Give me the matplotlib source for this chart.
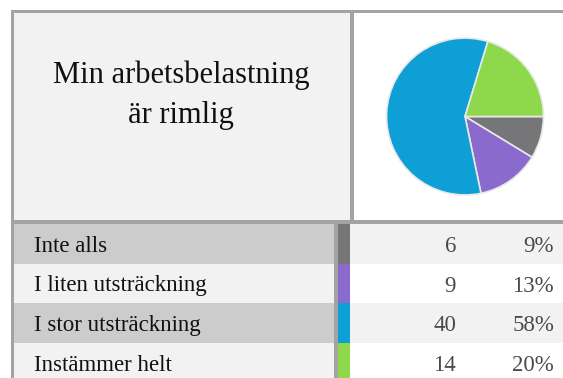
import matplotlib
matplotlib.use("Agg")
import matplotlib.pyplot as plt
from matplotlib.patches import Rectangle

title_lines = ["Min arbetsbelastning", "är rimlig"]
categories = ["Inte alls", "I liten utsträckning", "I stor utsträckning", "Instämmer helt"]
counts = [6, 9, 40, 14]
percents = ["9%", "13%", "58%", "20%"]
colors = ["#767577", "#8a6acd", "#0f9fd7", "#8dd84b"]

W, H = 563, 378
fig = plt.figure(figsize=(W / 100, H / 100), dpi=100)
ax = fig.add_axes([0, 0, 1, 1])
ax.set_xlim(0, W)
ax.set_ylim(H, 0)
ax.axis("off")

border = "#a3a3a3"
light = "#f2f2f2"
dark = "#cccccc"
serif = ["Liberation Serif", "DejaVu Serif"]

def rect(x0, y0, x1, y1, c):
    ax.add_patch(Rectangle((x0, y0), x1 - x0, y1 - y0, facecolor=c, edgecolor="none", lw=0))

# header
rect(13.5, 12, 350, 220, light)
rect(354, 12, W, 220, "white")
# rows
row_top = 224
row_h = 39.7
for i, cat in enumerate(categories):
    y0 = row_top + i * row_h
    y1 = y0 + row_h
    rect(13.5, y0, 334, y1, dark if i % 2 == 0 else light)
    rect(350, y0, W, y1, light if i % 2 == 0 else "white")
    rect(337.5, y0, 350, y1, colors[i])
    yb = y0 + 27.8
    ax.text(33.5, yb, cat, ha="left", va="baseline", fontsize=16.5, family=serif, color="#111111")
    ax.text(456, yb, str(counts[i]), ha="right", va="baseline", fontsize=16.5, family=serif, color="#4a4a4a")
    ax.text(554, yb, percents[i], ha="right", va="baseline", fontsize=16.5, family=serif, color="#4a4a4a")

# borders
rect(11, 10, W, 12.5, border)
rect(11, 10, 13.5, H, border)
rect(350, 10, 353.5, 222, border)
rect(11, 220, W, 224, border)
rect(334, 224, 337.5, H, border)

# title
ax.text(181, 83.3, title_lines[0], ha="center", va="baseline", fontsize=22, family=serif, color="#111111")
ax.text(181, 122.7, title_lines[1], ha="center", va="baseline", fontsize=22, family=serif, color="#111111")

# pie
cx, cy, r = 465, 116.5, 80
pax = fig.add_axes([(cx - r) / W, (H - cy - r) / H, 2 * r / W, 2 * r / H])
pax.pie(counts, colors=colors, startangle=0, counterclock=False,
        wedgeprops=dict(edgecolor="#e8e8e8", linewidth=1.2))
pax.set_xlim(-1.02, 1.02)
pax.set_ylim(-1.02, 1.02)
pax.axis("off")

fig.savefig("out.png", dpi=100)
